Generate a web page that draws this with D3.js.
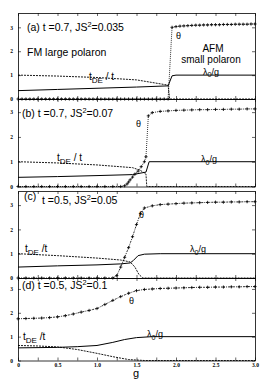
<!DOCTYPE html>
<html>
<head>
<meta charset="utf-8">
<script src="https://cdn.jsdelivr.net/npm/d3@7"></script>
<style>
  body { margin: 0; background: #fff; }
  svg { display: block; }
</style>
</head>
<body>
<svg id="svg"></svg>
<script>
// values
const xTicks = [0, 0.5, 1.0, 1.5, 2.0, 2.5, 3.0];
const xTickLabels = ["0", "0.5", "1.0", "1.5", "2.0", "2.5", "3.0"];
const xMinorTicks = [0, 0.25, 0.5, 0.75, 1, 1.25, 1.5, 1.75, 2, 2.25, 2.5, 2.75, 3];
const yTicks = [0, 1, 2, 3];

// panel (a) t=0.7, JS^2=0.035
const lamA_g = [0, 0.5, 1.0, 1.5, 1.9, 1.95, 2.0, 3.0];
const lamA = [0.35, 0.40, 0.45, 0.50, 0.55, 0.97, 1.0, 1.0];
const tdeA_g = [0, 0.5, 1.0, 1.5, 1.9, 1.92, 3.0];
const tdeA = [1.0, 0.96, 0.9, 0.8, 0.58, 0, 0];
const thetaA_g = [0,0.05,0.1,0.15,0.2,0.25,0.3,0.35,0.4,0.45,0.5,0.55,0.6,0.65,0.7,0.75,0.8,0.85,0.9,0.95,
  1.0,1.05,1.1,1.15,1.2,1.25,1.3,1.35,1.4,1.45,1.5,1.55,1.6,1.65,1.7,1.75,1.8,1.85,1.9,
  1.95,2.0,2.05,2.1,2.15,2.2,2.25,2.3,2.35,2.4,2.45,2.5,2.55,2.6,2.65,2.7,2.75,2.8,2.85,2.9,2.95,3.0];
const thetaA = [0,0,0,0,0,0,0,0,0,0,0,0,0,0,0,0,0,0,0,0,
  0,0,0,0,0,0,0,0,0,0,0,0,0,0,0,0,0,0,0,
  3.0,3.03,3.05,3.06,3.07,3.08,3.09,3.09,3.1,3.1,3.11,3.11,3.11,3.12,3.12,3.12,3.13,3.13,3.13,3.13,3.14,3.14];

// panel (b) t=0.7, JS^2=0.07
const lamB_g = [0, 0.5, 1.0, 1.45, 1.62, 1.66, 3.0];
const lamB = [0.37, 0.40, 0.44, 0.48, 0.58, 1.0, 1.0];
const tdeB_g = [0, 0.5, 1.0, 1.45, 1.55, 1.62, 1.63, 3.0];
const tdeB = [1.0, 0.95, 0.87, 0.76, 0.65, 0.5, 0, 0];
const thetaB_g = [0,0.1,0.2,0.3,0.4,0.5,0.6,0.7,0.8,0.9,1.0,1.1,1.2,1.3,
  1.35,1.38,1.4,1.42,1.45,1.48,1.52,1.56,1.6,1.62,
  1.65,1.7,1.8,1.9,2.0,2.1,2.2,2.3,2.4,2.5,2.6,2.7,2.8,2.9,3.0];
const thetaB = [0,0,0,0,0,0,0,0,0,0,0,0,0,0,
  0.03,0.1,0.18,0.27,0.38,0.5,0.62,0.8,1.0,1.2,
  2.85,2.98,3.03,3.05,3.07,3.08,3.09,3.1,3.1,3.11,3.11,3.12,3.12,3.13,3.13];

// panel (c) t=0.5, JS^2=0.05
const lamC_g = [0, 0.5, 1.0, 1.3, 1.42, 1.46, 1.52, 1.6, 1.8, 3.0];
const lamC = [0.45, 0.5, 0.54, 0.58, 0.62, 0.72, 0.92, 0.98, 1.0, 1.0];
const tdeC_g = [0, 0.5, 1.0, 1.3, 1.42, 1.48, 1.53, 1.58, 3.0];
const tdeC = [1.0, 0.92, 0.82, 0.74, 0.66, 0.45, 0.15, 0, 0];
const thetaC_g = [0,0.1,0.2,0.3,0.4,0.5,0.6,0.7,0.8,0.9,1.0,1.1,1.2,
  1.25,1.3,1.35,1.4,1.45,1.5,1.55,1.6,
  1.7,1.8,1.9,2.0,2.1,2.2,2.3,2.4,2.5,2.6,2.7,2.8,2.9,3.0];
const thetaC = [0,0,0,0,0,0,0,0,0,0,0,0,0,
  0.1,0.45,0.85,1.25,1.7,2.2,2.65,2.88,
  2.97,3.02,3.04,3.06,3.08,3.09,3.1,3.11,3.12,3.12,3.13,3.13,3.14,3.14];

// panel (d) t=0.5, JS^2=0.1
const lamD_g = [0, 0.5, 0.75, 1.0, 1.2, 1.35, 1.5, 1.7, 3.0];
const lamD = [0.53, 0.55, 0.58, 0.63, 0.76, 0.88, 0.96, 1.0, 1.0];
const tdeD_g = [0, 0.25, 0.5, 0.75, 1.0, 1.2, 1.4, 1.6, 3.0];
const tdeD = [0.63, 0.61, 0.57, 0.46, 0.3, 0.16, 0.04, 0, 0];
const thetaD_g = [0,0.1,0.2,0.3,0.4,0.5,0.6,0.7,0.8,0.9,1.0,1.1,1.2,1.3,1.4,1.5,
  1.6,1.7,1.8,1.9,2.0,2.1,2.2,2.3,2.4,2.5,2.6,2.7,2.8,2.9,3.0];
const thetaD = [1.75,1.76,1.77,1.78,1.8,1.83,1.88,1.95,2.03,2.1,2.18,2.35,2.52,2.68,2.82,2.93,
  2.98,3.0,3.02,3.03,3.04,3.05,3.06,3.07,3.07,3.08,3.08,3.09,3.09,3.1,3.1];

const zip = (g, v) => g.map((d, i) => [d, v[i]]);

let layout = {"width": 266, "height": 380, "left": 18, "right": 255};

const panels = [
  {top: 13, bottom: 99, yMax: 3.6, lam: zip(lamA_g, lamA), tde: zip(tdeA_g, tdeA), theta: zip(thetaA_g, thetaA), thetaDash: "1,1"},
  {top: 99, bottom: 186.5, yMax: 3.53, lam: zip(lamB_g, lamB), tde: zip(tdeB_g, tdeB), theta: zip(thetaB_g, thetaB), thetaDash: "1,1"},
  {top: 191, bottom: 278, yMax: 3.58, lam: zip(lamC_g, lamC), tde: zip(tdeC_g, tdeC), theta: zip(thetaC_g, thetaC), thetaDash: "2,1,1,1"},
  {top: 278, bottom: 360.5, yMax: 3.46, lam: zip(lamD_g, lamD), tde: zip(tdeD_g, tdeD), theta: zip(thetaD_g, thetaD), thetaDash: "2,1,1,1"}
];

const svg = d3.select("#svg").attr("width", layout.width).attr("height", layout.height);

const x = d3.scaleLinear().domain([0, 3]).range([layout.left, layout.right]);

const tickFont = "'Liberation Serif', 'DejaVu Serif', serif";
const textFont = "'Liberation Sans', Arial, Helvetica, sans-serif";

panels.forEach((p, k) => {
  const y = d3.scaleLinear().domain([0, p.yMax]).range([p.bottom, p.top]);
  p.y = y;
  const g = svg.append("g");

  // axes (ticks pointing inward)
  const bottom = g.append("g").attr("transform", `translate(0,${p.bottom})`)
    .call(d3.axisBottom(x).tickValues(xMinorTicks).tickSizeInner(-3).tickSizeOuter(0).tickFormat(""));
  const top = g.append("g").attr("transform", `translate(0,${p.top})`)
    .call(d3.axisTop(x).tickValues(xMinorTicks).tickSizeInner(-3).tickSizeOuter(0).tickFormat(""));
  const left = g.append("g").attr("transform", `translate(${layout.left},0)`)
    .call(d3.axisLeft(y).tickValues(yTicks).tickSizeInner(-3).tickSizeOuter(0).tickPadding(5).tickFormat(d3.format("d")));
  const right = g.append("g").attr("transform", `translate(${layout.right},0)`)
    .call(d3.axisRight(y).tickValues(yTicks).tickSizeInner(-3).tickSizeOuter(0).tickFormat(""));

  [bottom, top, left, right].forEach(a => {
    a.selectAll("path.domain").attr("stroke", "#000").attr("stroke-width", 0.8);
    a.selectAll(".tick line").attr("stroke", "#000").attr("stroke-width", 0.6);
  });
  left.selectAll(".tick text").attr("font-family", tickFont).attr("font-size", 5.5).attr("font-weight", "bold").attr("fill", "#000");

  if (k === panels.length - 1) {
    const lab = g.append("g").attr("transform", `translate(0,${p.bottom})`)
      .call(d3.axisBottom(x).tickValues(xTicks).tickSize(0).tickPadding(3)
        .tickFormat((d, i) => xTickLabels[i]));
    lab.select("path.domain").remove();
    lab.selectAll(".tick text").attr("font-family", tickFont).attr("font-size", 5.5).attr("font-weight", "bold").attr("fill", "#000");
  }

  const line = d3.line().x(d => x(d[0])).y(d => y(d[1]));

  g.append("path").datum(p.lam).attr("d", line)
    .attr("fill", "none").attr("stroke", "#000").attr("stroke-width", 1);
  g.append("path").datum(p.tde).attr("d", line)
    .attr("fill", "none").attr("stroke", "#000").attr("stroke-width", 0.9).attr("stroke-dasharray", "2,1");
  g.append("path").datum(p.theta).attr("d", line)
    .attr("fill", "none").attr("stroke", "#000").attr("stroke-width", 0.8).attr("stroke-dasharray", p.thetaDash);
  g.selectAll(".mk").data(p.theta).join("path")
    .attr("class", "mk")
    .attr("transform", d => `translate(${x(d[0])},${y(d[1])})`)
    .attr("d", "M-1.6,0H1.6M0,-1.6V1.6")
    .attr("stroke", "#000").attr("stroke-width", 0.8);
});

// annotations
function label(px, py, parts, size, anchor) {
  const t = svg.append("text").attr("x", px).attr("y", py)
    .attr("font-family", textFont).attr("font-size", size).attr("fill", "#000")
    .attr("text-anchor", anchor || "start");
  parts.forEach(pt => {
    const s = t.append("tspan").text(pt.t);
    if (pt.sub) s.attr("font-size", size * 0.8).attr("dy", size * 0.3);
    if (pt.sup) s.attr("font-size", size * 0.7).attr("dy", -size * 0.4);
    if (pt.back) s.attr("dy", pt.back);
  });
  return t;
}

label(27, 31, [{t: "(a) t =0.7, JS"}, {t: "2", sup: true}, {t: "=0.035", back: 11 * 0.4}], 10.5);
label(27, 56, [{t: "FM large polaron"}], 10.5);
label(89, 80, [{t: "t"}, {t: "DE", sub: true}, {t: " / t", back: -10 * 0.3}], 10);
label(176, 39, [{t: "θ"}], 9);
label(213, 52, [{t: "AFM"}], 10, "middle");
label(211, 63, [{t: "small polaron"}], 10, "middle");
label(211, 74.5, [{t: "λ"}, {t: "0", sub: true}, {t: "/g", back: -9 * 0.3}], 9, "middle");

label(22, 117, [{t: "(b) t =0.7, JS"}, {t: "2", sup: true}, {t: "=0.07", back: 11 * 0.4}], 10.5);
label(57, 161, [{t: "t"}, {t: "DE", sub: true}, {t: " / t", back: -10 * 0.3}], 10);
label(136, 127, [{t: "θ"}], 9);
label(209, 162, [{t: "λ"}, {t: "0", sub: true}, {t: "/g", back: -9 * 0.3}], 9, "middle");

label(24, 200, [{t: "(c)"}], 10.5);
label(42, 204, [{t: "t =0.5, JS"}, {t: "2", sup: true}, {t: "=0.05", back: 11 * 0.4}], 10.5);
label(25, 252, [{t: "t"}, {t: "DE", sub: true}, {t: " /t", back: -10 * 0.3}], 10);
label(139, 218, [{t: "θ"}], 9);
label(198, 252, [{t: "λ"}, {t: "0", sub: true}, {t: "/g", back: -9 * 0.3}], 9, "middle");

label(22, 289, [{t: "(d) t =0.5, JS"}, {t: "2", sup: true}, {t: "=0.1", back: 11 * 0.4}], 10.5);
label(129, 304, [{t: "θ"}], 9);
label(23, 340, [{t: "t"}, {t: "DE", sub: true}, {t: " /t", back: -10 * 0.3}], 10);
label(155, 337, [{t: "λ"}, {t: "0", sub: true}, {t: "/g", back: -9 * 0.3}], 9, "middle");

label(136, 377, [{t: "g"}], 11, "middle");
</script>
</body>
</html>
